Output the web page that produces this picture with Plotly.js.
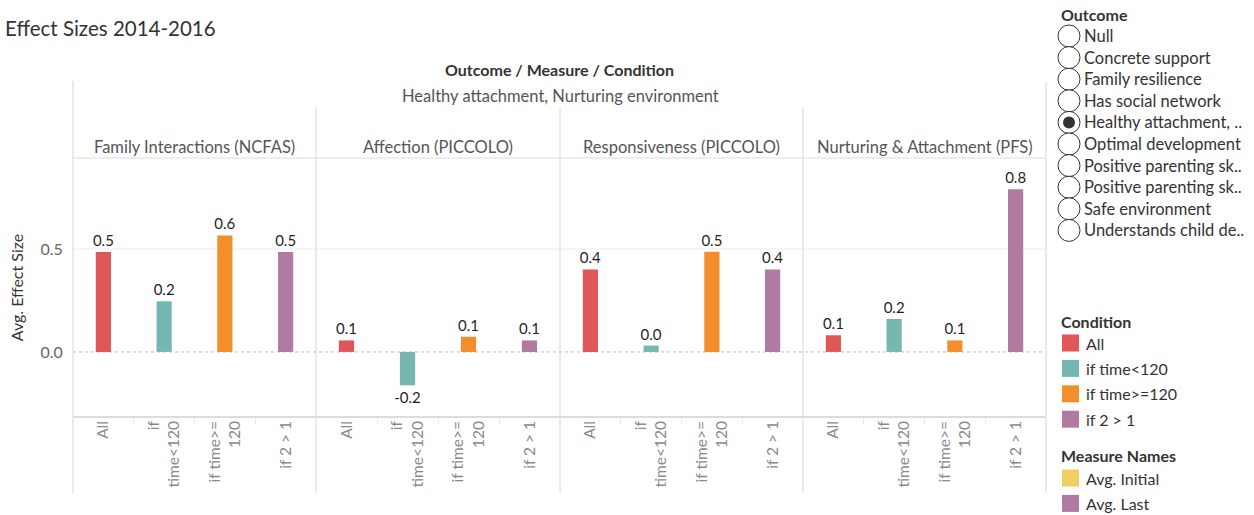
<!DOCTYPE html>
<html>
<head>
<meta charset="utf-8">
<script src="https://cdn.plot.ly/plotly-3.0.1.min.js"></script>
<style>html,body{margin:0;padding:0;background:#fff;}#chart{width:1254px;height:515px;}</style>
</head>
<body>
<div id="chart"></div>
<script>
// ---- data ----
const conditions = ["All", "if<br>time&lt;120", "if time&gt;=<br>120", "if 2 &gt; 1"];
const conditionNames = ["All", "if time&lt;120", "if time&gt;=120", "if 2 &gt; 1"];
const conditionColors = ["#e15759", "#76b7b2", "#f28e2b", "#b07aa1"];
const measures = ["Family Interactions (NCFAS)", "Affection (PICCOLO)", "Responsiveness (PICCOLO)", "Nurturing &amp; Attachment (PFS)"];
const familyInteractions = [0.485, 0.246, 0.566, 0.485];
const affection = [0.056, -0.162, 0.074, 0.056];
const responsiveness = [0.401, 0.031, 0.487, 0.401];
const nurturing = [0.081, 0.160, 0.056, 0.790];
const panelValues = [familyInteractions, affection, responsiveness, nurturing];
const outcomes = ["Null", "Concrete support", "Family resilience", "Has social network", "Healthy attachment, ..", "Optimal development", "Positive parenting sk..", "Positive parenting sk..", "Safe environment", "Understands child de.."];
const selectedOutcome = 4;
const measureNames = ["Avg. Initial", "Avg. Last"];
const measureColors = ["#f1ce63", "#b07aa1"];

// ---- layout helpers ----
const W = 1254, H = 515;
const px = x => x / W;
const py = y => 1 - y / H;
const FONT = "Lato, 'Open Sans', sans-serif";
const panelEdges = [73, 316, 560, 803, 1046];
const plotTop = 158, plotBottom = 417;

const traces = panelValues.map((vals, i) => ({
  type: "bar",
  x: conditions,
  y: vals,
  xaxis: i === 0 ? "x" : "x" + (i + 1),
  yaxis: "y",
  marker: {color: conditionColors, line: {width: 0}},
  texttemplate: "%{y:.1f}",
  textposition: "outside",
  constraintext: "none",
  cliponaxis: false,
  textfont: {family: FONT, size: 15, color: "#1f1f1f"},
  hoverinfo: "skip",
  showlegend: false
}));

const layout = {
  width: W, height: H,
  margin: {l: 0, r: 0, t: 0, b: 0},
  paper_bgcolor: "#fff", plot_bgcolor: "rgba(0,0,0,0)",
  font: {family: FONT, color: "#333"},
  showlegend: false,
  bargap: 0.75,
  yaxis: {
    domain: [py(plotBottom), py(plotTop)],
    range: [-0.316, 0.942],
    anchor: "x",
    tickmode: "array", tickvals: [0, 0.5], ticktext: ["0.0", "0.5"],
    tickfont: {family: FONT, size: 16, color: "#666"},
    ticks: "outside", ticklen: 6, tickcolor: "rgba(0,0,0,0)",
    showgrid: false, zeroline: false, showline: false,
    title: {text: "Avg. Effect Size", font: {family: FONT, size: 16, color: "#333"}, standoff: 12},
    fixedrange: true
  },
  shapes: [],
  annotations: []
};

for (let i = 0; i < 4; i++) {
  const key = i === 0 ? "xaxis" : "xaxis" + (i + 1);
  layout[key] = {
    domain: [px(panelEdges[i]), px(panelEdges[i + 1])],
    anchor: "y",
    type: "category",
    categoryorder: "array", categoryarray: conditions,
    tickangle: -90,
    tickfont: {family: FONT, size: 15.5, color: "#8a8a8a"},
    ticks: "outside", tickson: "boundaries", ticklen: 6, tickcolor: "#ececec",
    showgrid: false, zeroline: false, showline: false,
    fixedrange: true
  };
  layout.annotations.push({
    xref: "paper", yref: "paper",
    x: px((panelEdges[i] + panelEdges[i + 1]) / 2), y: py(147),
    xanchor: "center", yanchor: "middle",
    text: measures[i], showarrow: false,
    font: {family: FONT, size: 16.5, color: "#555"}
  });
}

const line = (x0, y0, x1, y1, color, width, extra) => Object.assign({
  type: "line", xref: "paper", yref: "paper",
  x0: px(x0), y0: py(y0), x1: px(x1), y1: py(y1),
  line: {color: color, width: width}, layer: "below"
}, extra || {});

// grid and zero line (data y)
layout.shapes.push({type: "line", xref: "paper", yref: "y", x0: px(73), x1: px(1046), y0: 0.5, y1: 0.5,
  line: {color: "#ececec", width: 1}, layer: "below"});
layout.shapes.push({type: "line", xref: "paper", yref: "y", x0: px(73), x1: px(1046), y0: 0, y1: 0,
  line: {color: "#bdbdbd", width: 1, dash: "dot"}, layer: "below"});
// frame
layout.shapes.push(line(73, 81, 73, 493, "#d6d6d6", 1));
layout.shapes.push(line(1046, 82, 1046, 493, "#d6d6d6", 1));
[316, 560, 803].forEach(x => layout.shapes.push(line(x, 107, x, 493, "#d6d6d6", 1)));
layout.shapes.push(line(73, 158, 1046, 158, "#dcdcdc", 1));
layout.shapes.push(line(73, 417, 1046, 417, "#dcdcdc", 2));

// titles
layout.annotations.push({xref: "paper", yref: "paper", x: px(3), y: py(28), xanchor: "left", yanchor: "middle",
  text: "Effect Sizes 2014-2016", showarrow: false, font: {family: FONT, size: 20.5, color: "#333"}});
layout.annotations.push({xref: "paper", yref: "paper", x: px(559), y: py(70), xanchor: "center", yanchor: "middle",
  text: "<b>Outcome / Measure / Condition</b>", showarrow: false, font: {family: FONT, size: 16, color: "#333"}});
layout.annotations.push({xref: "paper", yref: "paper", x: px(560), y: py(96), xanchor: "center", yanchor: "middle",
  text: "Healthy attachment, Nurturing environment", showarrow: false, font: {family: FONT, size: 16.5, color: "#555"}});

// Outcome radio list
layout.annotations.push({xref: "paper", yref: "paper", x: px(1059), y: py(14), xanchor: "left", yanchor: "middle",
  text: "<b>Outcome</b>", showarrow: false, font: {family: FONT, size: 16, color: "#333"}});
outcomes.forEach((o, i) => {
  const cy = 36 + i * 21.6;
  layout.shapes.push({type: "circle", xref: "paper", yref: "paper",
    x0: px(1058), x1: px(1080), y0: py(cy + 11), y1: py(cy - 11),
    line: {color: "#333", width: 1}, fillcolor: "#fff", layer: "above"});
  if (i === selectedOutcome) {
    layout.shapes.push({type: "circle", xref: "paper", yref: "paper",
      x0: px(1063), x1: px(1075), y0: py(cy + 6), y1: py(cy - 6),
      line: {color: "#333", width: 0}, fillcolor: "#333", layer: "above"});
  }
  layout.annotations.push({xref: "paper", yref: "paper", x: px(1082), y: py(cy), xanchor: "left", yanchor: "middle",
    text: o, showarrow: false, font: {family: FONT, size: 16.5, color: "#333"}});
});

// Condition legend
layout.annotations.push({xref: "paper", yref: "paper", x: px(1059), y: py(321), xanchor: "left", yanchor: "middle",
  text: "<b>Condition</b>", showarrow: false, font: {family: FONT, size: 16, color: "#333"}});
conditionNames.forEach((c, i) => {
  const cy = 343 + i * 25.4;
  layout.shapes.push({type: "rect", xref: "paper", yref: "paper",
    x0: px(1062), x1: px(1079), y0: py(cy + 8.5), y1: py(cy - 8.5),
    line: {width: 0}, fillcolor: conditionColors[i], layer: "above"});
  layout.annotations.push({xref: "paper", yref: "paper", x: px(1084), y: py(cy), xanchor: "left", yanchor: "middle",
    text: c, showarrow: false, font: {family: FONT, size: 16, color: "#333"}});
});
layout.annotations.push({xref: "paper", yref: "paper", x: px(1059), y: py(455), xanchor: "left", yanchor: "middle",
  text: "<b>Measure Names</b>", showarrow: false, font: {family: FONT, size: 16, color: "#333"}});
measureNames.forEach((m, i) => {
  const cy = 478 + i * 25.4;
  layout.shapes.push({type: "rect", xref: "paper", yref: "paper",
    x0: px(1062), x1: px(1079), y0: py(cy + 8.5), y1: py(cy - 8.5),
    line: {width: 0}, fillcolor: measureColors[i], layer: "above"});
  layout.annotations.push({xref: "paper", yref: "paper", x: px(1084), y: py(cy), xanchor: "left", yanchor: "middle",
    text: m, showarrow: false, font: {family: FONT, size: 16, color: "#333"}});
});

Plotly.newPlot("chart", traces, layout, {displayModeBar: false, staticPlot: true});
</script>
</body>
</html>
